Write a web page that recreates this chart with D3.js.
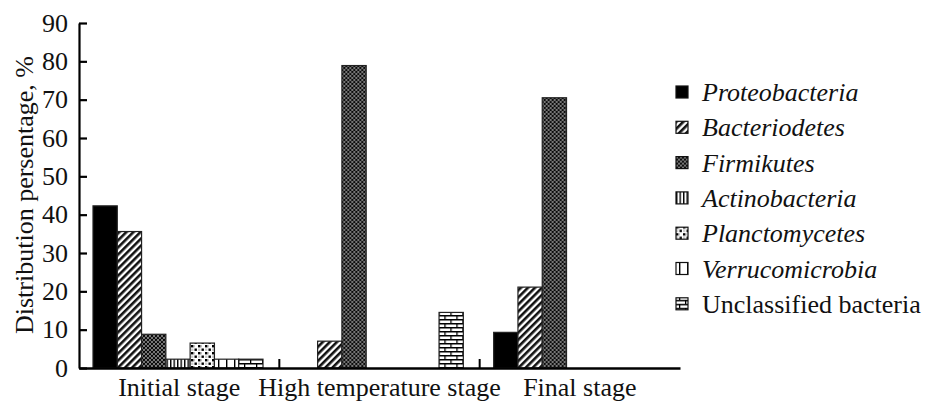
<!DOCTYPE html>
<html>
<head>
<meta charset="utf-8">
<script src="https://cdn.jsdelivr.net/npm/d3@7"></script>
<style>
  body { margin: 0; background: #fff; }
  svg { display: block; }
</style>
</head>
<body>
<div id="chart"></div>
<script>
const stages = ["Initial stage", "High temperature stage", "Final stage"];
const groups = ["Proteobacteria", "Bacteriodetes", "Firmikutes", "Actinobacteria",
  "Planctomycetes", "Verrucomicrobia", "Unclassified bacteria"];
const italicGroup = [true, true, true, true, true, true, false];
// values per group, in stage order
const proteobacteria = [42.3, 0, 9.3];
const bacteriodetes = [35.6, 7.0, 21.1];
const firmikutes = [8.8, 78.9, 70.5];
const actinobacteria = [2.3, 0, 0];
const planctomycetes = [6.5, 0, 0];
const verrucomicrobia = [2.3, 0, 0];
const unclassified = [2.3, 14.5, 0];
const seriesValues = [proteobacteria, bacteriodetes, firmikutes, actinobacteria,
  planctomycetes, verrucomicrobia, unclassified];
const yTicks = [0, 10, 20, 30, 40, 50, 60, 70, 80, 90];

const W = 930, H = 405;
const margin = {left: 79, top: 23};
const plotW = 601, plotH = 345;
const serif = "'Liberation Serif', 'Times New Roman', serif";
const fs = 26;

const svg = d3.select("#chart").append("svg")
  .attr("width", W).attr("height", H)
  .attr("style", "font-family:'Liberation Serif'");

const defs = svg.append("defs");

// hatch patterns
function pat(id, w, h) {
  return defs.append("pattern").attr("id", id)
    .attr("patternUnits", "userSpaceOnUse")
    .attr("width", w).attr("height", h);
}
let p;
p = pat("p1", 5, 5);
p.append("rect").attr("width", 5).attr("height", 5).attr("fill", "#000");

p = pat("p2", 5, 5).attr("patternTransform", "rotate(45)");
p.append("rect").attr("width", 5).attr("height", 5).attr("fill", "#fff");
p.append("rect").attr("width", 2.6).attr("height", 5).attr("fill", "#111");

p = pat("p3", 4, 4);
p.append("rect").attr("width", 4).attr("height", 4).attr("fill", "#777");
p.append("circle").attr("cx", 1).attr("cy", 1).attr("r", 1.1).attr("fill", "#000");
p.append("circle").attr("cx", 3).attr("cy", 3).attr("r", 1.1).attr("fill", "#000");

p = pat("p4", 3.5, 4);
p.append("rect").attr("width", 3.5).attr("height", 4).attr("fill", "#fff");
p.append("rect").attr("width", 1.4).attr("height", 4).attr("fill", "#000");

p = pat("p5", 7, 7);
p.append("rect").attr("width", 7).attr("height", 7).attr("fill", "#fff");
p.append("rect").attr("x", 0).attr("y", 0).attr("width", 2.4).attr("height", 2.4).attr("fill", "#000");
p.append("rect").attr("x", 3.5).attr("y", 3.5).attr("width", 2.4).attr("height", 2.4).attr("fill", "#000");
p.append("rect").attr("x", 2.4).attr("y", 0).attr("width", 1.1).attr("height", 2.4).attr("fill", "#888");
p.append("rect").attr("x", 0).attr("y", 3.5).attr("width", 2.4).attr("height", 2.4).attr("fill", "#ccc");

p = pat("p6", 8, 8);
p.append("rect").attr("width", 8).attr("height", 8).attr("fill", "#fff");
p.append("rect").attr("x", 3).attr("width", 1.4).attr("height", 8).attr("fill", "#000");

p = pat("p7", 12, 8);
p.append("rect").attr("width", 12).attr("height", 8).attr("fill", "#fff");
p.append("rect").attr("y", 0).attr("width", 12).attr("height", 1.5).attr("fill", "#000");
p.append("rect").attr("y", 4).attr("width", 12).attr("height", 1.5).attr("fill", "#000");
p.append("rect").attr("x", 3).attr("y", 0).attr("width", 1.3).attr("height", 4).attr("fill", "#000");
p.append("rect").attr("x", 9).attr("y", 4).attr("width", 1.3).attr("height", 4).attr("fill", "#000");

const patterns = ["p1", "p2", "p3", "p4", "p5", "p6", "p7"];

const g = svg.append("g").attr("transform", `translate(${margin.left},${margin.top})`);

const x0 = d3.scaleBand().domain(stages).range([0, plotW]).paddingInner(0).paddingOuter(0);
const x1 = d3.scaleBand().domain(groups).range([14, 14 + 170]);
const y = d3.scaleLinear().domain([0, 90]).range([plotH, 0]);

// bars
const stageG = g.selectAll(".stage").data(stages).enter().append("g")
  .attr("transform", d => `translate(${x0(d)},0)`);

stageG.each(function (stage, si) {
  const bars = groups.map((name, gi) => ({name, gi, v: seriesValues[gi][si]}))
    .filter(d => d.v > 0);
  d3.select(this).selectAll("rect").data(bars).enter().append("rect")
    .attr("x", d => x1(d.name))
    .attr("y", d => y(d.v))
    .attr("width", x1.bandwidth())
    .attr("height", d => plotH - y(d.v))
    .attr("fill", d => `url(#${patterns[d.gi]})`)
    .attr("stroke", "#222")
    .attr("stroke-width", 1.2);
});

// y axis
const yAxis = d3.axisLeft(y).tickValues(yTicks).tickSizeInner(-8).tickSizeOuter(0).tickPadding(11);
const ya = g.append("g").call(yAxis).attr("font-family", serif).attr("font-size", fs);
ya.select(".domain").attr("stroke", "#000").attr("stroke-width", 2.2);
ya.selectAll(".tick line").attr("stroke", "#000").attr("stroke-width", 2.2);
ya.selectAll("text").attr("fill", "#111");

// x axis
const xa = g.append("g").attr("transform", `translate(0,${plotH})`)
  .call(d3.axisBottom(x0).tickSize(0).tickPadding(7))
  .attr("font-family", serif).attr("font-size", fs);
xa.select(".domain").attr("stroke", "#000").attr("stroke-width", 2.5);
xa.selectAll("text").attr("fill", "#111").attr("dy", "0.8em");
// category separator ticks
g.selectAll(".sep").data(stages.slice(1)).enter().append("line")
  .attr("x1", d => x0(d)).attr("x2", d => x0(d))
  .attr("y1", plotH).attr("y2", plotH - 9)
  .attr("stroke", "#000").attr("stroke-width", 2);

// y title
svg.append("text")
  .attr("transform", "translate(33,195) rotate(-90)")
  .attr("text-anchor", "middle")
  .attr("font-family", serif).attr("font-size", fs).attr("fill", "#111")
  .text("Distribution persentage, %");

// legend
const leg = svg.append("g").attr("transform", "translate(676,92)");
const li = leg.selectAll(".li").data(groups).enter().append("g")
  .attr("transform", (d, i) => `translate(0,${i * 35.3})`);
li.append("rect").attr("x", 0).attr("y", -6).attr("width", 12).attr("height", 12)
  .attr("fill", (d, i) => `url(#${patterns[i]})`)
  .attr("stroke", "#111").attr("stroke-width", 1.2);
li.append("text").attr("x", 26).attr("y", 9)
  .attr("font-family", serif).attr("font-size", fs).attr("fill", "#111")
  .attr("font-style", (d, i) => italicGroup[i] ? "italic" : "normal")
  .text(d => d);
</script>
</body>
</html>
